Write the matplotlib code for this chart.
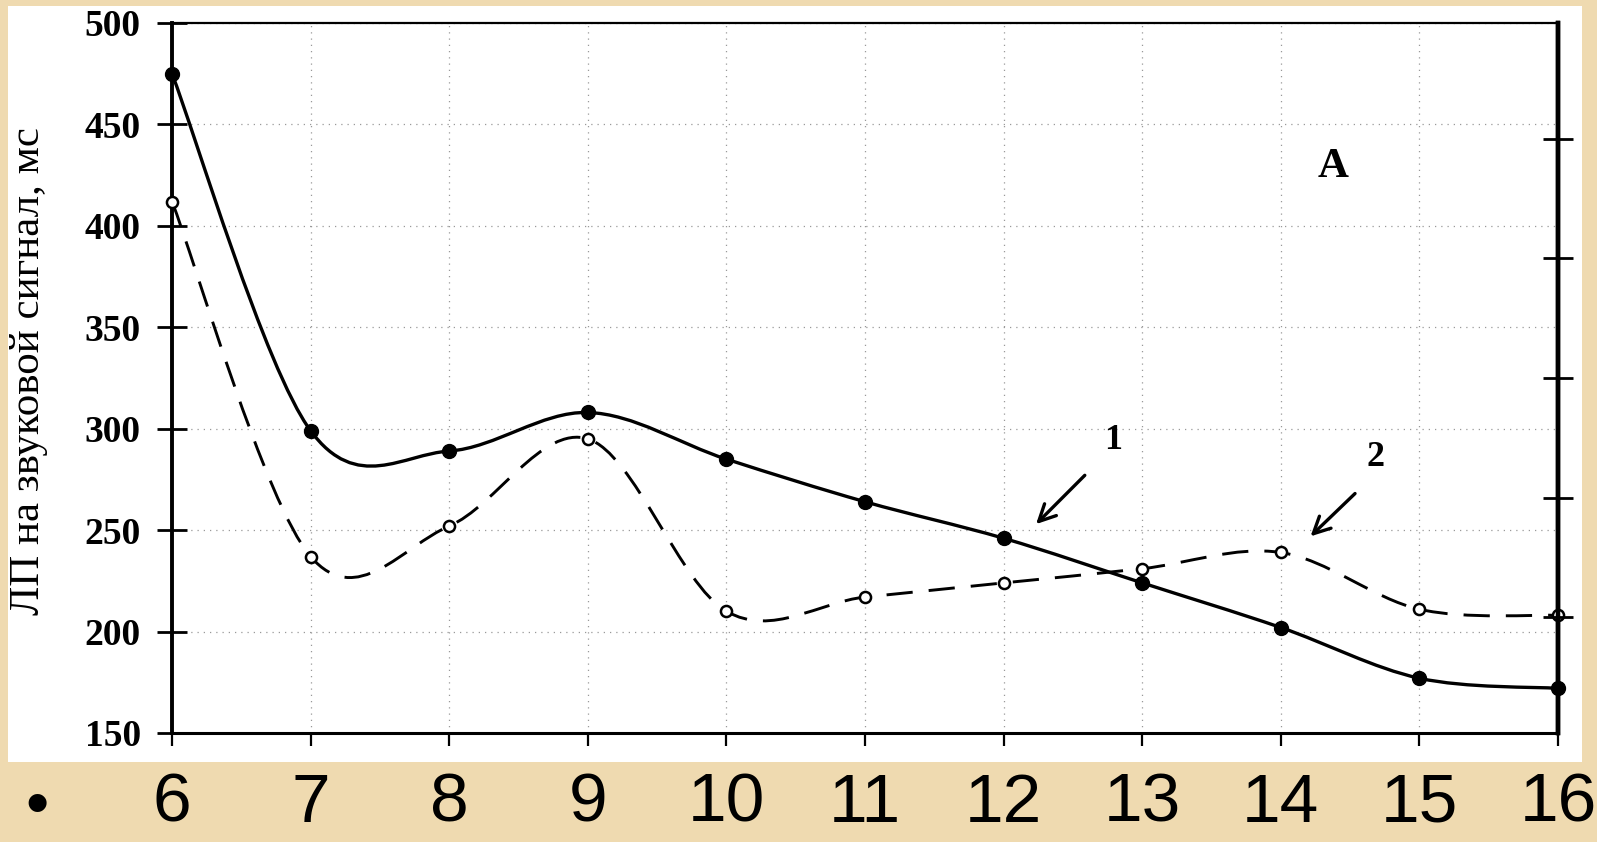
import numpy as np
import matplotlib
matplotlib.use('Agg')
import matplotlib.pyplot as plt
from matplotlib.path import Path
from matplotlib.patches import PathPatch, Rectangle

# ---- data ----
ages = [6, 7, 8, 9, 10, 11, 12, 13, 14, 15, 16]
series1 = [475, 299, 289, 308, 285, 264, 246, 224, 202, 177, 172]   # curve 1 (solid, filled markers)
series2 = [412, 237, 252, 295, 210, 217, 224, 231, 239, 211, 208]   # curve 2 (dashed, open markers)
yticks = [150, 200, 250, 300, 350, 400, 450, 500]
right_ticks = [207, 266, 325, 384, 443]
ylabel = 'ЛП на звуковой сигнал, мс'

W, H = 1597, 842
BG = '#EFDAB0'


def smooth_path(x, y):
    """Excel-like smoothed line: cubic Bezier segments through the points."""
    x = np.asarray(x, float)
    y = np.asarray(y, float)
    n = len(x)
    verts = [(x[0], y[0])]
    codes = [Path.MOVETO]
    for i in range(n - 1):
        xp, yp = (x[i - 1], y[i - 1]) if i > 0 else (x[i], y[i])
        xn, yn = (x[i + 2], y[i + 2]) if i + 2 < n else (x[i + 1], y[i + 1])
        c1 = (x[i] + (x[i + 1] - xp) / 6, y[i] + (y[i + 1] - yp) / 6)
        c2 = (x[i + 1] - (xn - x[i]) / 6, y[i + 1] - (yn - y[i]) / 6)
        verts += [c1, c2, (x[i + 1], y[i + 1])]
        codes += [Path.CURVE4] * 3
    return Path(verts, codes)


fig = plt.figure(figsize=(W / 100, H / 100), dpi=100)
fig.patch.set_facecolor(BG)

# white scanned panel
panel = Rectangle((8 / W, 1 - 762 / H), (1582 - 8) / W, (762 - 6) / H,
                  transform=fig.transFigure, facecolor='white', edgecolor='none', zorder=-10)
fig.patches.append(panel)

ax = fig.add_axes([172 / W, 1 - 733 / H, 1386 / W, 710 / H])
ax.set_zorder(1)
ax.patch.set_visible(False)
ax.set_xlim(6, 16)
ax.set_ylim(150, 500)

# grid
ax.set_xticks(ages)
ax.set_yticks(yticks)
ax.grid(True, linestyle=(0, (1, 4)), color='#999999', lw=0.9)
ax.set_axisbelow(True)

# spines
ax.spines['left'].set_linewidth(2.8)
ax.spines['bottom'].set_linewidth(2.2)
ax.spines['right'].set_linewidth(3.2)
ax.spines['top'].set_linewidth(1.6)
ax.spines['top'].set_linestyle((0, (2, 1)))

serif = ['Liberation Serif', 'DejaVu Serif']
ax.set_yticklabels([str(v) for v in yticks], fontfamily=serif, fontweight='bold', fontsize=27)
ax.tick_params(axis='y', direction='inout', length=21, width=2, pad=12, colors='black')
ax.set_xticklabels([str(a) for a in ages], fontfamily=['Liberation Sans', 'DejaVu Sans'], fontsize=50)
ax.tick_params(axis='x', direction='out', length=9, width=1.6, pad=19)

ax.set_ylabel(ylabel, fontfamily=serif, fontsize=31, va='center')
ax.yaxis.set_label_coords(-0.103, 0.51)

# right axis ticks (no labels)
ax2 = ax.twinx()
ax2.set_zorder(2)
ax2.patch.set_visible(False)
ax2.set_ylim(150, 500)
ax2.set_yticks(right_ticks)
ax2.set_yticklabels([])
ax2.tick_params(axis='y', direction='inout', length=21, width=2)
for s in ['left', 'top', 'bottom']:
    ax2.spines[s].set_visible(False)
ax2.spines['right'].set_linewidth(3.2)

# curves
ax.add_patch(PathPatch(smooth_path(ages, series1), facecolor='none', edgecolor='black',
                       lw=2.4, zorder=3, clip_on=False))
ax.add_patch(PathPatch(smooth_path(ages, series2), facecolor='none', edgecolor='black',
                       lw=2.1, linestyle=(0, (9, 5.5)), zorder=3, clip_on=False))
ax.plot(ages, series1, 'o', color='black', markersize=10, zorder=4, clip_on=False)
ax.plot(ages, series2, 'o', markerfacecolor='white', markeredgecolor='black',
        markeredgewidth=1.8, markersize=8, zorder=4, clip_on=False)

# annotations
ax.annotate('', xy=(12.22, 252), xytext=(12.6, 278),
            arrowprops=dict(arrowstyle='->', lw=2.4, mutation_scale=30, color='black'))
ax.text(12.79, 294, '1', fontfamily=serif, fontweight='bold', fontsize=26, ha='center', va='center')
ax.annotate('', xy=(14.2, 246), xytext=(14.55, 269),
            arrowprops=dict(arrowstyle='->', lw=2.4, mutation_scale=30, color='black'))
ax.text(14.68, 286, '2', fontfamily=serif, fontweight='bold', fontsize=26, ha='center', va='center')
ax.text(14.38, 429, 'A', fontfamily=serif, fontweight='bold', fontsize=31, ha='center', va='center')

# slide bullet
fig.text(37 / W, 1 - 808 / H, '•', fontsize=48, fontfamily=['Liberation Sans', 'DejaVu Sans'],
         ha='center', va='center')

fig.savefig('out.png', dpi=100, facecolor=BG)
